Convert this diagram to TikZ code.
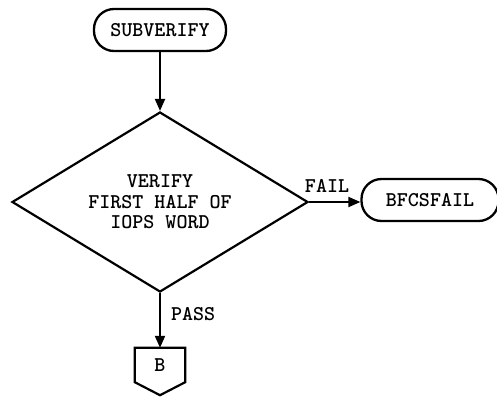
\documentclass[tikz,border=0pt]{standalone}
\usepackage{fontspec}
\usetikzlibrary{shapes.geometric,arrows.meta}
\begin{document}
\begin{tikzpicture}[x=1pt,y=-1pt,
  every node/.style={font=\fontsize{21}{20.5}\selectfont\ttfamily\bfseries},
  terminal/.style={draw,line width=2.3pt,rounded corners=20pt,
    minimum height=42pt,inner sep=0pt},
  decision/.style={draw,line width=2.2pt,diamond,aspect=1.644,
    minimum width=296pt,minimum height=180pt,inner sep=0pt,align=center},
  flow/.style={line width=2pt,-{Triangle[length=12pt,width=10pt]}},
  lbl/.style={inner sep=0pt}]
  \useasboundingbox (0,0) rectangle (497,397);

  \node[terminal,minimum width=132pt] (sub) at (160,30) {SUBVERIFY};
  \node[decision] (dia) at (160,202) {VERIFY\\FIRST HALF OF\\IOPS WORD};
  \node[terminal,minimum width=137pt] (fail) at (430,200) {BFCSFAIL};

  % off-page connector B: text node plus pentagon outline
  \node[minimum width=50pt,minimum height=34pt,inner sep=0pt] (b) at (160,365) {B};
  \draw[line width=2.2pt,line join=miter]
    (b.north west) -- (b.north east) -- (b.south east)
    -- ([yshift=-13pt]b.south) -- (b.south west) -- cycle;

  \draw[flow] (sub) -- (dia);
  \draw[flow] (dia.east) -- (dia.east -| fail.west)
    node[lbl,pos=0.35,above=9pt] (faillbl) {FAIL};
  \draw[flow] (dia.south) -- (b.north)
    node[lbl,pos=0.38,right=10pt] (passlbl) {PASS};
\end{tikzpicture}
\end{document}
